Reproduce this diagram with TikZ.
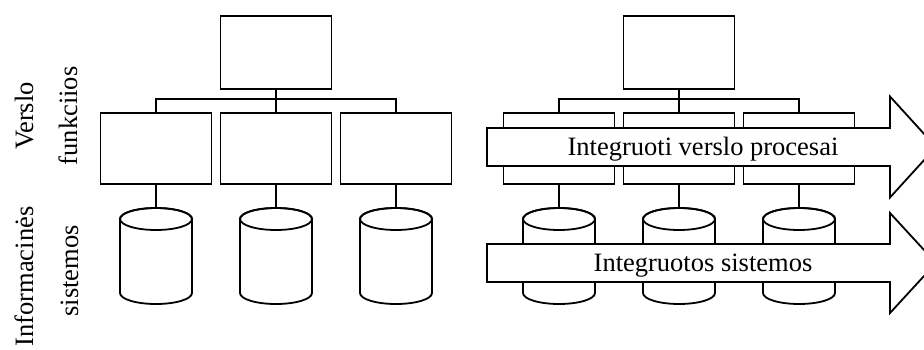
\documentclass[tikz,border=0pt]{standalone}
\usepackage{fontspec}
\setmainfont{Liberation Serif}
\usepackage{tikz}

\tikzset{
  box/.style={draw, fill=white, minimum width=111pt, minimum height=71pt, inner sep=0pt},
  label/.style={font=\fontsize{26.5}{30}\selectfont, inner sep=0pt},
  side/.style={label, rotate=90, anchor=base},
  tub/.pic={
    \draw[fill=white] (-36,0) -- (-36,-74) arc[start angle=180, end angle=360, x radius=36pt, y radius=11pt]
      -- (36,0) arc[start angle=0, end angle=180, x radius=36pt, y radius=11pt] -- cycle;
    \draw (0,0) ellipse [x radius=36pt, y radius=11pt];
    \coordinate (-top) at (0,11);
  }
}

\begin{document}
\begin{tikzpicture}[x=1pt, y=1pt, line width=1.8pt]
      \useasboundingbox (0,0) rectangle (924,349);
      \clip (0,0) rectangle (924,349);
      % Side labels
      \node[side] (verslo) at (33,233) {Verslo};
      \node[side] (funkc) at (77,233) {funkciios};
      \node[side] (inform) at (33,72.5) {Informacinės};
      \node[side] (sist) at (78,78) {sistemos};
      % Left: separate functions and systems
      \node[box, minimum height=73pt] (topL) at (276,296.5) {};
      \node[box] (fL1) at (156,200.5) {};
      \node[box] (fL2) at (276,200.5) {};
      \node[box] (fL3) at (396,200.5) {};
      \pic (cL1) at (156,130) {tub};
      \pic (cL2) at (276,130) {tub};
      \pic (cL3) at (396,130) {tub};
      \draw (topL.south) -- (fL2.north);
      \draw (fL1.north) -- ++(0,13) -| (fL3.north);
      \draw (fL1.south) -- (cL1-top);
      \draw (fL2.south) -- (cL2-top);
      \draw (fL3.south) -- (cL3-top);
      % Right: the same, crossed by the integration arrows
      \node[box, minimum height=73pt] (topR) at (679,296.5) {};
      \node[box] (fR1) at (559,200.5) {};
      \node[box] (fR2) at (679,200.5) {};
      \node[box] (fR3) at (799,200.5) {};
      \pic (cR1) at (559,130) {tub};
      \pic (cR2) at (679,130) {tub};
      \pic (cR3) at (799,130) {tub};
      \draw (topR.south) -- (fR2.north);
      \draw (fR1.north) -- ++(0,13) -| (fR3.north);
      \draw (fR1.south) -- (cR1-top);
      \draw (fR2.south) -- (cR2-top);
      \draw (fR3.south) -- (cR3-top);
      % Arrows
      \draw[fill=white] (487,183) -- (890,183) -- (890,151.5) -- (936,202) -- (890,252.5)
        -- (890,221) -- (487,221) -- cycle;
      \draw[fill=white] (487,67) -- (890,67) -- (890,36) -- (936,86) -- (890,136)
        -- (890,105) -- (487,105) -- cycle;
      \node[label, anchor=base] (procesai) at (703,193.5) {Integruoti verslo procesai};
      \node[label, anchor=base] (sistemos) at (703,77.5) {Integruotos sistemos};
    \end{tikzpicture}
\end{document}
